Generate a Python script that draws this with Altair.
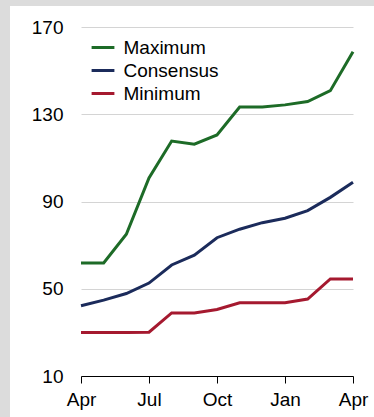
import altair as alt
import pandas as pd

# Monthly index: 0 = Apr through 12 = Apr of the following year
month_idx = list(range(13))
tick_positions = [0, 3, 6, 9, 12]
tick_labels = ["Apr", "Jul", "Oct", "Jan", "Apr"]

series_names = ["Maximum", "Consensus", "Minimum"]
series_colors = ["#1d6b27", "#1b2b5b", "#a5192f"]

maximum = [61.8, 61.8, 75.0, 100.8, 117.7, 116.3, 120.5, 133.3, 133.3, 134.3, 135.8, 140.8, 158.7]
consensus = [42.2, 44.8, 47.8, 52.6, 60.9, 65.4, 73.4, 77.3, 80.3, 82.3, 85.8, 91.9, 98.8]
minimum = [30.0, 30.0, 30.0, 30.1, 38.9, 38.9, 40.5, 43.6, 43.6, 43.6, 45.3, 54.5, 54.5]

y_ticks = [10, 50, 90, 130, 170]

rows = []
for name, vals in zip(series_names, [maximum, consensus, minimum]):
    for m, v in zip(month_idx, vals):
        rows.append({"month": m, "value": v, "series": name})
df = pd.DataFrame(rows)

FONT = "Liberation Sans"
W, H = 272, 349
FRAME = "#dcdcdc"

label_expr = " : ".join(
    f"datum.value == {p} ? '{t}'" for p, t in zip(tick_positions, tick_labels)
) + " : ''"

one = pd.DataFrame({"a": [0]})

# Grey page frame: a strip along the top and one down the left edge
top_strip = alt.Chart(one).mark_rect(color=FRAME).encode(
    x=alt.value(-81), x2=alt.value(W + 21),
    y=alt.value(-27), y2=alt.value(-21),
)
left_strip = alt.Chart(one).mark_rect(color=FRAME).encode(
    x=alt.value(-81), x2=alt.value(-71),
    y=alt.value(-27), y2=alt.value(H + 41),
)

lines = alt.Chart(df).mark_line(strokeWidth=3).encode(
    x=alt.X(
        "month:Q",
        scale=alt.Scale(domain=[0, 12], nice=False, zero=False),
        axis=alt.Axis(
            values=tick_positions, labelExpr=label_expr, title=None, grid=False,
            domainColor="black", domainWidth=1, tickColor="black", tickSize=7,
            labelFontSize=19, labelFont=FONT, labelColor="black", labelPadding=7,
            labelFlush=False,
        ),
    ),
    y=alt.Y(
        "value:Q",
        scale=alt.Scale(domain=[10, 170], nice=False, zero=False),
        axis=alt.Axis(
            values=y_ticks, title=None, domain=False, ticks=False,
            grid=True, gridColor="#d4d4d4", gridWidth=1,
            labelFontSize=19, labelFont=FONT, labelColor="black", labelPadding=18,
        ),
    ),
    color=alt.Color(
        "series:N",
        scale=alt.Scale(domain=series_names, range=series_colors),
        sort=series_names,
        legend=alt.Legend(
            title=None, orient="none", legendX=10.5, legendY=9,
            # short horizontal dash, a little longer than the symbol cell
            symbolType="M-1.14,0H1.14", symbolStrokeWidth=3, symbolSize=400,
            labelFontSize=19, labelFont=FONT, labelColor="black",
            labelOffset=9, rowPadding=1,
        ),
    ),
)

chart = alt.layer(top_strip, left_strip, lines).properties(
    width=W, height=H,
    background="white",
    padding={"left": 81, "top": 27, "right": 21, "bottom": 41},
    autosize=alt.AutoSizeParams(type="none"),
).configure_view(stroke=None)

chart.save("out.html", embed_options={"renderer": "svg", "actions": False})
